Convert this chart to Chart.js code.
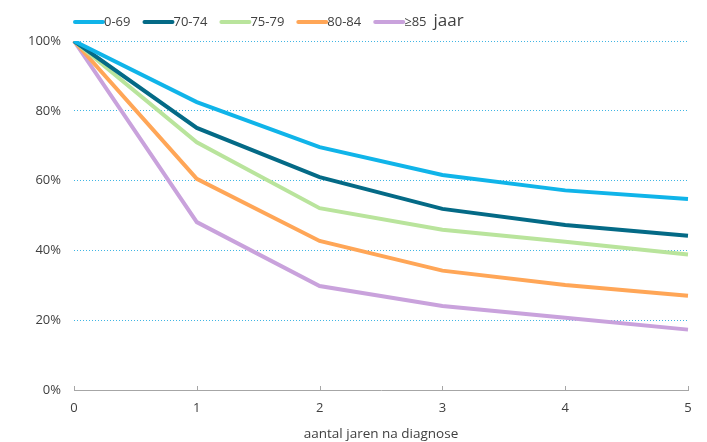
<!DOCTYPE html>
<html>
<head>
<meta charset="utf-8">
<script src="https://cdn.jsdelivr.net/npm/chart.js@4/dist/chart.umd.min.js"></script>
<style>
  html, body { margin: 0; padding: 0; background: #fff; }
  #wrap { width: 707px; height: 442px; }
</style>
</head>
<body>
<div id="wrap"><canvas id="grafico"></canvas></div>
<script>
const jaren = ['0', '1', '2', '3', '4', '5'];
const groepen = ['0-69', '70-74', '75-79', '80-84', '≥85'];
const kleuren = ['#10b4e9', '#046a86', '#b9e49c', '#ffa657', '#c9a2dc'];

const overleving_0_69 = [100, 82.5, 69.6, 61.6, 57.2, 54.7];
const overleving_70_74 = [100, 75.1, 61.0, 51.9, 47.3, 44.2];
const overleving_75_79 = [100, 71.0, 52.1, 45.9, 42.5, 38.8];
const overleving_80_84 = [100, 60.5, 42.7, 34.2, 30.1, 27.0];
const overleving_85 = [100, 48.1, 29.8, 24.1, 20.7, 17.3];

const yTicks = [0, 20, 40, 60, 80, 100];
const fontFam = '"Open Sans", sans-serif';

const reeksen = [overleving_0_69, overleving_70_74, overleving_75_79, overleving_80_84, overleving_85];

const datasets = reeksen.map((d, i) => ({
  label: groepen[i],
  data: d,
  borderColor: kleuren[i],
  backgroundColor: kleuren[i],
  borderWidth: 4,
  pointRadius: 0,
  tension: 0,
  fill: false
}));

// legenda bovenaan met lijnstukjes, plus "jaar" achter de laatste
const legendaPlugin = {
  id: 'legenda',
  afterDraw(chart) {
    const ctx = chart.ctx;
    let x = 75;
    const y = 22;
    ctx.save();
    ctx.textBaseline = 'middle';
    groepen.forEach((g, i) => {
      ctx.strokeStyle = kleuren[i];
      ctx.lineWidth = 4;
      ctx.lineCap = 'round';
      ctx.beginPath();
      ctx.moveTo(x, y);
      ctx.lineTo(x + 28, y);
      ctx.stroke();
      ctx.fillStyle = '#404040';
      ctx.font = '13px ' + fontFam;
      ctx.fillText(g, x + 29, y);
      const w = ctx.measureText(g).width;
      x = x + 29 + w + 14;
      if (i === groepen.length - 1) {
        ctx.font = '17px ' + fontFam;
        ctx.fillText('jaar', x - 7, y - 1);
      }
    });
    ctx.restore();
  }
};

// tickstreepjes naar binnen op de x-as
const tickPlugin = {
  id: 'xticks',
  afterDraw(chart) {
    const sx = chart.scales.x;
    const ctx = chart.ctx;
    const b = chart.chartArea.bottom;
    ctx.save();
    ctx.strokeStyle = '#a6a6a6';
    ctx.lineWidth = 1;
    jaren.forEach((j, i) => {
      const px = Math.round(sx.getPixelForValue(i)) + 0.5;
      ctx.beginPath();
      ctx.moveTo(px, b - 4);
      ctx.lineTo(px, b);
      ctx.stroke();
    });
    ctx.restore();
  }
};

new Chart(document.getElementById('grafico'), {
  type: 'line',
  data: { labels: jaren, datasets: datasets },
  plugins: [legendaPlugin, tickPlugin],
  options: {
    responsive: true,
    maintainAspectRatio: false,
    animation: false,
    layout: { padding: { top: 41, right: 19, left: 0, bottom: 0 } },
    plugins: { legend: { display: false }, tooltip: { enabled: false } },
    scales: {
      x: {
        offset: false,
        afterFit: s => { s.height = 52; },
        grid: { display: false, drawTicks: false },
        border: { display: true, color: '#a6a6a6', width: 1 },
        ticks: { color: '#404040', font: { family: fontFam, size: 13 }, padding: 10, maxRotation: 0 },
        title: {
          display: true,
          text: 'aantal jaren na diagnose',
          color: '#404040',
          font: { family: fontFam, size: 13.5 },
          padding: { top: 1, bottom: 0 }
        }
      },
      y: {
        min: 0,
        max: 100,
        afterFit: s => { s.width = 74; },
        afterBuildTicks: s => { s.ticks = yTicks.map(v => ({ value: v })); },
        grid: {
          drawTicks: false,
          color: c => c.tick && c.tick.value === 0 ? 'rgba(0,0,0,0)' : '#3fb5e3',
          lineWidth: 1
        },
        border: { display: false, dash: [1, 2] },
        ticks: {
          color: '#404040',
          font: { family: fontFam, size: 13 },
          padding: 13,
          callback: v => v + '%'
        }
      }
    }
  }
});
</script>
</body>
</html>
